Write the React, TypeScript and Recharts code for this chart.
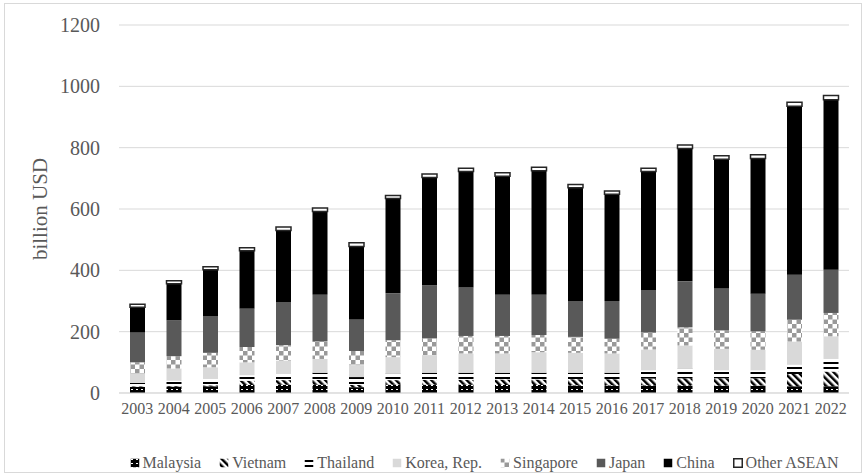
import React from 'react';
import { BarChart, Bar, XAxis, YAxis, CartesianGrid, Legend } from 'recharts';

const years = ['2003', '2004', '2005', '2006', '2007', '2008', '2009', '2010', '2011', '2012', '2013', '2014', '2015', '2016', '2017', '2018', '2019', '2020', '2021', '2022'];
const malaysia = [20, 21, 22, 26, 27, 27, 19, 27, 27, 27, 26, 26, 25, 25, 25, 25, 24, 24, 22, 22];
const vietnam = [2, 2, 3, 14, 15, 16, 7, 15, 16, 16, 18, 18, 20, 20, 22, 23, 24, 24, 40, 48];
const thailand = [11, 17, 21, 18, 20, 23, 26, 21, 23, 23, 22, 22, 21, 21, 27, 31, 26, 26, 30, 41];
const korea = [29, 40, 38, 42, 44, 45, 39, 54, 57, 63, 63, 67, 65, 63, 68, 76, 70, 67, 76, 74];
const singapore = [38, 40, 47, 50, 50, 57, 46, 55, 55, 57, 57, 56, 52, 48, 55, 59, 60, 60, 71, 76];
const japan = [97, 117, 120, 125, 141, 152, 103, 153, 174, 158, 134, 131, 117, 123, 139, 150, 137, 123, 147, 141];
const china = [83, 119, 151, 189, 233, 272, 238, 309, 351, 378, 387, 405, 369, 348, 386, 433, 421, 441, 549, 554];
const otherAsean = [9, 10, 10, 10, 11, 11, 12, 10, 11, 11, 11, 11, 11, 11, 11, 12, 12, 12, 13, 14];
const yTicks = [0, 200, 400, 600, 800, 1000, 1200];

const data = years.map((year, i) => ({
  year,
  Malaysia: malaysia[i],
  Vietnam: vietnam[i],
  Thailand: thailand[i],
  'Korea, Rep.': korea[i],
  Singapore: singapore[i],
  Japan: japan[i],
  China: china[i],
  'Other ASEAN': otherAsean[i],
}));

const series = [
  { key: 'Malaysia', fill: 'url(#pMalaysia)' },
  { key: 'Vietnam', fill: 'url(#pVietnam)' },
  { key: 'Thailand', fill: 'url(#pThailand)' },
  { key: 'Korea, Rep.', fill: '#d9d9d9' },
  { key: 'Singapore', fill: 'url(#pSingapore)' },
  { key: 'Japan', fill: '#595959' },
  { key: 'China', fill: '#000000' },
  { key: 'Other ASEAN', fill: '#ffffff', stroke: '#262626' },
];

const font = '"Liberation Serif", "Times New Roman", serif';

const renderLegend = () => (
  <div style={{ display: 'flex', justifyContent: 'center', alignItems: 'center', gap: 18, fontFamily: font, fontSize: 16, color: '#595959' }}>
    {series.map((s) => (
      <span key={s.key} style={{ display: 'flex', alignItems: 'center', whiteSpace: 'nowrap' }}>
        <svg width={10} height={10} style={{ marginRight: 3 }}>
          <rect x={0.75} y={0.75} width={8.5} height={8.5} fill={s.fill} stroke={s.stroke ?? 'none'} strokeWidth={1.5} />
        </svg>
        {s.key}
      </span>
    ))}
  </div>
);

export default function App() {
  return (
    <div style={{ position: 'absolute', left: 0, top: 0, width: 865, height: 476, background: '#fff' }}>
      {/* chart frame */}
      <div style={{ position: 'absolute', left: 4, top: 3, width: 856, height: 468, border: '1px solid #d9d9d9' }} />
      <BarChart width={865} height={476} data={data} margin={{ top: 25, right: 16, left: 0, bottom: 53 }} barSize={15}>
        <defs>
          <pattern id="pMalaysia" patternUnits="userSpaceOnUse" width={5} height={4}>
            <rect width={5} height={4} fill="#000" />
            <rect x={1} y={1} width={2} height={1} fill="#fff" />
          </pattern>
          <pattern id="pVietnam" patternUnits="userSpaceOnUse" width={5} height={5} patternTransform="rotate(-45)">
            <rect width={5} height={5} fill="#fff" />
            <rect width={2.5} height={5} fill="#000" />
          </pattern>
          <pattern id="pThailand" patternUnits="userSpaceOnUse" width={4} height={5}>
            <rect width={4} height={5} fill="#fff" />
            <rect y={2} width={4} height={2} fill="#000" />
          </pattern>
          <pattern id="pSingapore" patternUnits="userSpaceOnUse" width={9} height={9}>
            <rect width={9} height={9} fill="#fff" />
            <rect width={4.5} height={4.5} fill="#999" />
            <rect x={4.5} y={4.5} width={4.5} height={4.5} fill="#999" />
          </pattern>
        </defs>
        <CartesianGrid vertical={false} stroke="#d9d9d9" strokeWidth={1} />
        <XAxis
          dataKey="year"
          height={30}
          axisLine={{ stroke: '#d9d9d9' }}
          tickLine={false}
          tickSize={0}
          tickMargin={10}
          interval={0}
          tick={{ fontFamily: font, fontSize: 16, fill: '#595959' }}
        />
        <YAxis
          width={119}
          domain={[0, 1200]}
          ticks={yTicks}
          axisLine={false}
          tickLine={false}
          tickSize={0}
          tickMargin={19}
          tick={{ fontFamily: font, fontSize: 20, fill: '#595959' }}
          label={{ value: 'billion USD', angle: -90, position: 'insideLeft', offset: 40, style: { textAnchor: 'middle', fontFamily: font, fontSize: 21, fill: '#595959' } }}
        />
        <Legend verticalAlign="middle" content={renderLegend} wrapperStyle={{ top: 454, left: 119, width: 730 }} />
        {series.map((s) => (
          <Bar
            key={s.key}
            dataKey={s.key}
            stackId="a"
            fill={s.fill}
            stroke={s.stroke}
            strokeWidth={s.stroke ? 1.5 : 0}
            isAnimationActive={false}
          />
        ))}
      </BarChart>
    </div>
  );
}
